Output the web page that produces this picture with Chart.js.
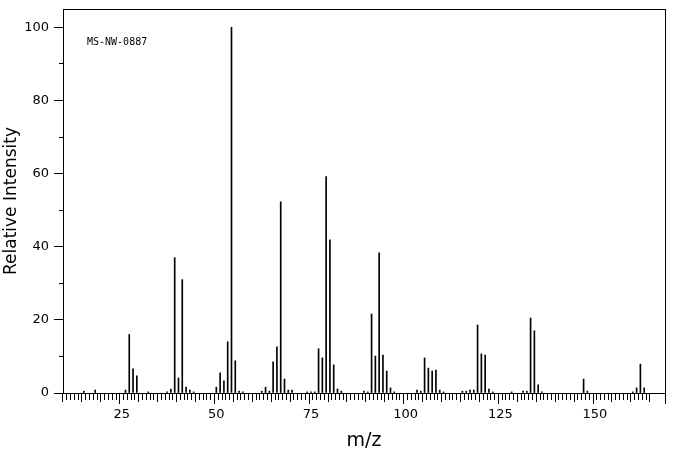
<!DOCTYPE html>
<html>
<head>
<meta charset="utf-8">
<script src="https://cdn.jsdelivr.net/npm/chart.js@4/dist/chart.umd.min.js"></script>
<style>
  html, body { margin: 0; padding: 0; background: #fff; }
  #wrap { position: relative; width: 676px; height: 455px; }
</style>
</head>
<body>
<div id="wrap"><canvas id="msChart"></canvas></div>
<script>
/************ SPECTRUM DATA ************/
const mzValues = [
  15, 18, 26, 27, 28, 29, 32, 37, 38, 39, 40, 41, 42, 43, 44,
  50, 51, 52, 53, 54, 55, 56, 57, 62, 63, 64, 65, 66, 67, 68, 69, 70,
  74, 75, 76, 77, 78, 79, 80, 81, 82, 83, 89, 90, 91, 92, 93, 94, 95, 96, 97,
  103, 104, 105, 106, 107, 108, 109, 110, 115, 116, 117, 118, 119, 120, 121,
  122, 123, 128, 131, 132, 133, 134, 135, 136, 147, 148, 160, 161, 162, 163,
];
const intensities = [
  0.5, 0.8, 0.8, 16.0, 6.6, 4.7, 0.3, 0.3, 1.1, 37.0, 4.1, 31.0, 1.6, 0.8, 0.3,
  1.6, 5.5, 3.3, 14.0, 100, 8.8, 0.5, 0.3, 0.5, 1.6, 0.5, 8.5, 12.6, 52.3, 3.8, 0.8, 0.8,
  0.3, 0.3, 0.3, 12.1, 9.6, 59.2, 41.9, 7.7, 1.1, 0.5, 0.5, 0.3, 21.6, 10.1, 38.3, 10.4, 6.0, 1.4, 0.3,
  0.8, 0.5, 9.6, 6.8, 6.0, 6.3, 0.8, 0.3, 0.5, 0.5, 0.8, 0.8, 18.6, 10.7, 10.4,
  1.1, 0.3, 0.3, 0.5, 0.5, 20.5, 17.0, 2.2, 0.3, 3.8, 0.5, 0.3, 1.4, 7.9, 1.4,
];
const xTickLabels = [25, 50, 75, 100, 125, 150];
const yTickLabels = [0, 20, 40, 60, 80, 100];
const sampleName = "MS-NW-0887";

/************ HELPERS ************/
// tick marks of different length, cut from one long tick with a dash pattern
function xTickDash(v) {
  if (v % 25 === 0) return [];
  if (v % 5 === 0) return [8, 50];
  return [6, 50];
}
function yTickDash(v) {
  if (v % 20 === 0) return [];
  return [0, 5, 4, 50];
}

const frameAndName = {
  id: "frameAndName",
  afterDraw(chart) {
    const { ctx, chartArea: a } = chart;
    ctx.save();
    ctx.strokeStyle = "#000";
    ctx.lineWidth = 1;
    ctx.strokeRect(Math.round(a.left) + 0.5, Math.round(a.top) + 0.5,
      Math.round(a.right - a.left), Math.round(a.bottom - a.top));
    ctx.fillStyle = "#000";
    ctx.font = '10px "DejaVu Sans Mono"';
    ctx.textBaseline = "alphabetic";
    ctx.fillText(sampleName, a.left + 24, a.top + 36);
    ctx.restore();
  },
};

/************ CHART ************/
const ctx = document.getElementById("msChart").getContext("2d");
const msChart = new Chart(ctx, {
  type: "bar",
  data: {
    datasets: [
      {
        data: mzValues.map((m, i) => ({ x: m, y: intensities[i] })),
        backgroundColor: "#000",
        borderWidth: 0,
        barThickness: 1,
      },
    ],
  },
  options: {
    responsive: true,
    maintainAspectRatio: false,
    animation: false,
    layout: { padding: { top: 9, right: 11, left: 0, bottom: 0 } },
    plugins: {
      legend: { display: false },
      tooltip: { enabled: false },
    },
    scales: {
      x: {
        type: "linear",
        min: 10,
        max: 168,
        afterFit: (s) => {
          s.height = 62;
          s.paddingLeft = 0;
          s.paddingRight = 0;
        },
        border: { color: "#000", width: 1 },
        grid: {
          drawOnChartArea: false,
          tickLength: 11,
          tickColor: (c) => (c.tick && c.tick.value > 165 ? "rgba(0,0,0,0)" : "#000"),
          tickBorderDash: (c) => (c.tick ? xTickDash(c.tick.value) : []),
        },
        ticks: {
          stepSize: 1,
          autoSkip: false,
          maxRotation: 0,
          padding: 3,
          color: "#000",
          font: { family: "DejaVu Sans", size: 13 },
          callback: (v) => (xTickLabels.includes(v) ? String(v) : ""),
        },
        title: {
          display: true,
          text: "m/z",
          color: "#000",
          font: { family: "DejaVu Sans", size: 19 },
          padding: { top: 0, bottom: 3 },
        },
      },
      y: {
        min: 0,
        max: 105,
        afterFit: (s) => {
          s.width = 63;
          s.paddingTop = 0;
          s.paddingBottom = 0;
        },
        border: { color: "#000", width: 1 },
        grid: {
          drawOnChartArea: false,
          tickLength: 9,
          tickColor: (c) => (c.tick && c.tick.value > 100 ? "rgba(0,0,0,0)" : "#000"),
          tickBorderDash: (c) => (c.tick ? yTickDash(c.tick.value) : []),
        },
        ticks: {
          stepSize: 10,
          autoSkip: false,
          padding: 5,
          color: "#000",
          font: { family: "DejaVu Sans", size: 13 },
          callback: (v) => (yTickLabels.includes(v) ? String(v) : ""),
        },
        title: {
          display: true,
          text: "Relative Intensity",
          color: "#000",
          font: { family: "DejaVu Sans", size: 17 },
          padding: { top: 1, bottom: 0 },
        },
      },
    },
  },
  plugins: [frameAndName],
});
</script>
</body>
</html>
